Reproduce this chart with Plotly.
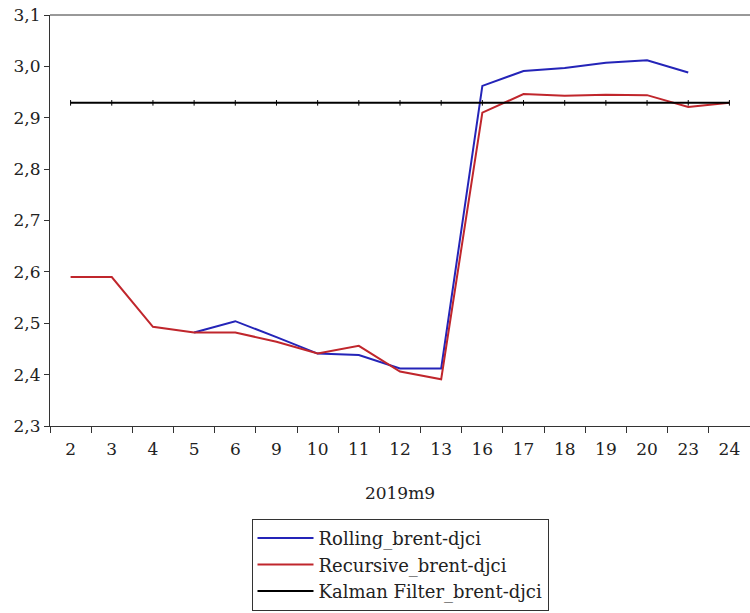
import plotly.graph_objects as go

# Days of September 2019 (trading days)
days = ["2", "3", "4", "5", "6", "9", "10", "11", "12", "13",
        "16", "17", "18", "19", "20", "23", "24"]

rolling = [None, None, None, 2.482, 2.504, 2.473, 2.441, 2.438, 2.412, 2.412,
           2.962, 2.991, 2.997, 3.007, 3.012, 2.988, None]
recursive = [2.590, 2.590, 2.493, 2.482, 2.482, 2.464, 2.441, 2.456, 2.406, 2.391,
             2.910, 2.946, 2.943, 2.945, 2.944, 2.921, 2.929]
kalman = [2.929] * len(days)

font_family = "DejaVu Serif"

fig = go.Figure()
fig.add_trace(go.Scatter(x=days, y=rolling, mode="lines", name="Rolling_brent-djci",
                         line=dict(color="#2424b8", width=2)))
fig.add_trace(go.Scatter(x=days, y=recursive, mode="lines", name="Recursive_brent-djci",
                         line=dict(color="#c0262c", width=2)))
fig.add_trace(go.Scatter(x=days, y=kalman, mode="lines", name="Kalman Filter_brent-djci",
                         line=dict(color="#000000", width=2)))
# small tick marks on the Kalman observations
fig.add_trace(go.Scatter(x=days, y=kalman, mode="markers", showlegend=False,
                         hoverinfo="skip",
                         marker=dict(symbol="line-ns", size=4,
                                     line=dict(color="#000000", width=1))))

fig.update_layout(
    width=750, height=613,
    margin=dict(l=50, r=0, t=15, b=187, autoexpand=False),
    paper_bgcolor="white", plot_bgcolor="white",
    separators=", ",
    font=dict(family=font_family, size=17, color="#222222"),
    showlegend=True,
    legend=dict(x=0.5, xanchor="center", y=-0.226, yanchor="top",
                bordercolor="#333333", borderwidth=1, bgcolor="white",
                font=dict(size=18), tracegroupgap=0, itemwidth=56),
)
fig.update_xaxes(
    type="category", range=[-0.5, 16.5], showgrid=False, zeroline=False,
    showline=True, linecolor="#333333", linewidth=1,
    ticks="outside", tickson="boundaries", ticklen=6, tickcolor="#333333",
    ticklabelstandoff=8, automargin=False,
    title=dict(text="2019m9", standoff=28, font=dict(size=17)),
    mirror=False,
)
fig.update_yaxes(
    range=[2.3, 3.1], dtick=0.1, tickformat=".1f",
    showgrid=False, zeroline=False, automargin=False,
    showline=True, linecolor="#333333", linewidth=1,
    ticks="outside", ticklen=5, tickcolor="#333333",
)
# top frame line
fig.add_shape(type="line", xref="paper", yref="paper", x0=0, x1=1, y0=1, y1=1,
              line=dict(color="#333333", width=1))

fig.write_html("out.html")
